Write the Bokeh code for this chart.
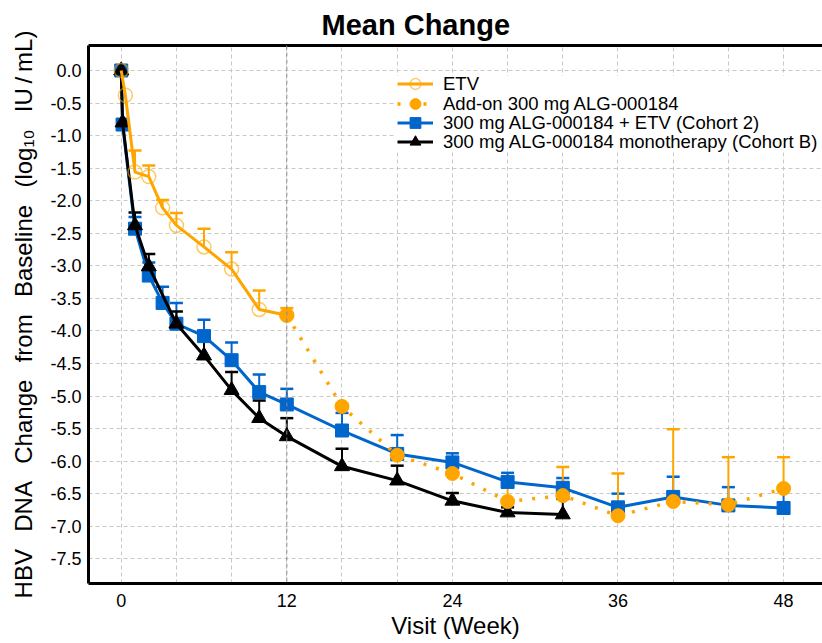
import math
from bokeh.plotting import figure
from bokeh.models import (LinearAxis, FixedTicker, Whisker, TeeHead, Legend, LegendItem,
                          Span, ColumnDataSource, Range1d, NumeralTickFormatter)
from bokeh.embed import file_html
from bokeh.resources import INLINE

NAN = float("nan")

# ---------------- data ----------------
etv_week = [0, 0.3, 1, 2, 3, 4, 6, 8, 10, 12]
etv_mean = [0.0, -0.38, -1.56, -1.63, -2.11, -2.38, -2.71, -3.05, -3.67, -3.76]
etv_upper = [NAN, NAN, -1.23, -1.46, -1.99, -2.19, -2.43, -2.79, -3.38, -3.65]

addon_week = [12, 16, 20, 24, 28, 32, 36, 40, 44, 48]
addon_mean = [-3.76, -5.16, -5.91, -6.19, -6.62, -6.53, -6.84, -6.62, -6.67, -6.42]
addon_upper = [NAN, -5.12, -5.86, -5.94, -6.32, -6.09, -6.19, -5.51, -5.94, -5.94]

c2_week = [0, 0.1, 1, 2, 3, 4, 6, 8, 10, 12, 16, 20, 24, 28, 32, 36, 40, 44, 48]
c2_mean = [0.0, -0.83, -2.43, -3.15, -3.57, -3.89, -4.08, -4.45, -4.94, -5.13,
           -5.53, -5.89, -6.02, -6.32, -6.41, -6.71, -6.55, -6.68, -6.72]
c2_upper = [NAN, NAN, -2.25, -2.95, -3.32, -3.57, -3.83, -4.18, -4.67, -4.89,
            -5.26, -5.60, -5.88, -6.18, -6.26, -6.50, -6.24, -6.40, -6.40]

cb_week = [0, 0.1, 1, 2, 4, 6, 8, 10, 12, 16, 20, 24, 28, 32]
cb_mean = [0.0, -0.80, -2.38, -3.01, -3.89, -4.38, -4.91, -5.34, -5.62,
           -6.08, -6.30, -6.61, -6.79, -6.82]
cb_upper = [NAN, NAN, -2.18, -2.82, -3.70, -4.15, -4.63, -5.07, -5.34,
            -5.81, -6.07, -6.49, -6.71, -6.58]

x_ticks = [0, 12, 24, 36, 48]
y_ticks = [0.0, -0.5, -1.0, -1.5, -2.0, -2.5, -3.0, -3.5, -4.0, -4.5, -5.0,
           -5.5, -6.0, -6.5, -7.0, -7.5]

title_text = "Mean Change"
labels = ["ETV", "Add-on 300 mg ALG-000184", "300 mg ALG-000184 + ETV (Cohort 2)",
          "300 mg ALG-000184 monotherapy (Cohort B)"]

ORANGE = "#FFA500"
BLUE = "#0066CC"
BLACK = "#000000"
FONT = "Liberation Sans"

p = figure(width=822, height=643, x_range=Range1d(-2.37, 50.82),
           y_range=Range1d(-7.88, 0.384), output_backend="svg",
           toolbar_location=None, min_border_left=88, min_border_right=0,
           min_border_top=45, min_border_bottom=60)

p.outline_line_color = None
p.background_fill_color = "white"

# title
p.title.text = title_text
p.title.text_font = FONT
p.title.text_font_size = "29px"
p.title.text_font_style = "bold"
p.title.text_color = "black"
p.title.align = "left"
p.title.offset = 233
p.title.standoff = 6
p.title.vertical_align = "top"

# axes
for ax in (p.xaxis[0], p.yaxis[0]):
    ax.axis_line_width = 3
    ax.axis_line_color = "black"
    ax.major_tick_out = 0
    ax.major_tick_in = 0
    ax.minor_tick_out = 0
    ax.minor_tick_in = 0
    ax.major_label_text_font = FONT
    ax.major_label_text_font_size = "18px"
    ax.major_label_text_color = "black"
    ax.axis_label_text_font = FONT
    ax.axis_label_text_font_style = "normal"
    ax.axis_label_text_color = "black"

p.xaxis.ticker = FixedTicker(ticks=x_ticks)
p.xaxis.major_label_standoff = 10
p.xaxis.axis_label = "Visit (Week)"
p.xaxis.axis_label_text_font_size = "24px"
p.xaxis.axis_label_standoff = 2

p.yaxis.ticker = FixedTicker(ticks=y_ticks)
p.yaxis.formatter = NumeralTickFormatter(format="0.0")
p.yaxis.major_label_standoff = 7
sep = "\u00a0\u00a0\u2006"
p.yaxis.axis_label = sep.join(["HBV", "DNA", "Change", "from", "Baseline",
                               "(log\u2081\u2080", "IU\u2009/\u2009mL)"])
p.yaxis.axis_label_text_font_size = "24px"
p.yaxis.axis_label_standoff = 10

top_axis = LinearAxis(ticker=FixedTicker(ticks=[]), axis_line_width=3,
                      axis_line_color="black", major_tick_out=0, major_tick_in=0,
                      minor_tick_out=0, minor_tick_in=0,
                      major_label_text_font_size="0px")
p.add_layout(top_axis, "above")

# grid
p.xgrid.ticker = FixedTicker(ticks=list(range(0, 49, 4)))
p.ygrid.ticker = FixedTicker(ticks=y_ticks)
p.grid.grid_line_color = "#c8c8c8"
p.grid.grid_line_dash = "4 3"
p.grid.grid_line_width = 1
p.add_layout(Span(location=12, dimension="height", line_color="#8a8a8a",
                  line_dash="4 3", line_width=1))


def errbars(week, mean, upper, color):
    w = [a for a, u in zip(week, upper) if not math.isnan(u)]
    m = [b for b, u in zip(mean, upper) if not math.isnan(u)]
    u = [c for c in upper if not math.isnan(c)]
    src = ColumnDataSource(dict(week=w, mean=m, upper=u))
    wk = Whisker(source=src, base="week", lower="mean", upper="upper",
                 dimension="height", line_color=color, line_width=2,
                 lower_head=None,
                 upper_head=TeeHead(size=13, line_color=color, line_width=2.5))
    p.add_layout(wk)


# Cohort 2 (blue)
c2_line = p.line(c2_week, c2_mean, line_color=BLUE, line_width=3)
c2_pts = p.scatter(c2_week, c2_mean, marker="square", size=13, fill_color=BLUE,
                   line_color=BLUE)
errbars(c2_week, c2_mean, c2_upper, BLUE)

# Cohort B (black)
cb_line = p.line(cb_week, cb_mean, line_color=BLACK, line_width=3)
cb_pts = p.scatter(cb_week, cb_mean, marker="triangle", size=15, fill_color=BLACK,
                   line_color=BLACK)
errbars(cb_week, cb_mean, cb_upper, BLACK)

# ETV (orange, open circles)
etv_line = p.line(etv_week, etv_mean, line_color=ORANGE, line_width=3)
etv_pts = p.scatter(etv_week, etv_mean, marker="circle", size=14, fill_color=None,
                    line_color=ORANGE, line_alpha=0.6, line_width=1.5)
errbars(etv_week, etv_mean, etv_upper, ORANGE)

# Add-on (orange dotted, filled circles)
ad_line = p.line(addon_week, addon_mean, line_color=ORANGE, line_width=3.5,
                 line_dash="3 10")
ad_pts = p.scatter(addon_week, addon_mean, marker="circle", size=14,
                   fill_color=ORANGE, line_color=ORANGE)
errbars(addon_week, addon_mean, addon_upper, ORANGE)

# legend: a white backing box, then one legend per entry (about 20 px apart)
bg = Legend(items=[LegendItem(label=" ", renderers=[])], location=(307, 431),
            padding=0, margin=0, glyph_width=440, glyph_height=76, label_height=20,
            label_standoff=0, border_line_color=None,
            background_fill_color="white", background_fill_alpha=1.0)
p.add_layout(bg)

entries = [[etv_line, etv_pts], [ad_line, ad_pts], [c2_line, c2_pts], [cb_line, cb_pts]]
legend_y = [486, 466, 447, 428]
for lab, rends, ly in zip(labels, entries, legend_y):
    lg = Legend(items=[LegendItem(label=lab, renderers=rends)], location=(309, ly),
                padding=0, margin=0, spacing=0, glyph_width=36, glyph_height=27,
                label_height=20, label_standoff=10, label_text_font=FONT,
                label_text_font_size="18.5px", label_text_color="black",
                border_line_color=None, background_fill_alpha=0.0)
    p.add_layout(lg)

open("out.html", "w").write(file_html(p, INLINE))
